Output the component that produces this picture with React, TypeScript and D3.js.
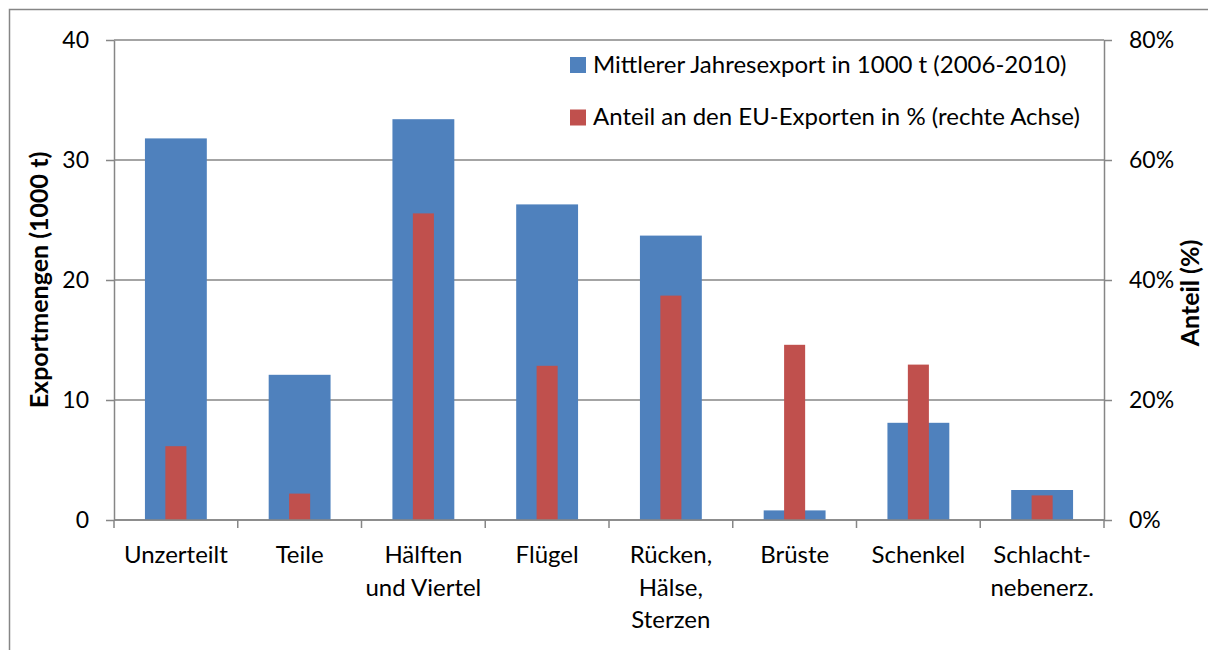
import { axisLeft, axisRight, scaleBand, scaleLinear, select } from "d3";
import { useEffect, useRef } from "react";

const categories = [
  "Unzerteilt",
  "Teile",
  "Hälften\nund Viertel",
  "Flügel",
  "Rücken,\nHälse,\nSterzen",
  "Brüste",
  "Schenkel",
  "Schlacht-\nnebenerz.",
];
const exportValues = [31.8, 12.1, 33.4, 26.3, 23.7, 0.8, 8.1, 2.5];
const euShare = [12.3, 4.4, 51.1, 25.7, 37.4, 29.2, 25.9, 4.1];
const leftTicks = [0, 10, 20, 30, 40];
const rightTicks = [0, 20, 40, 60, 80];
const seriesNames = [
  "Mittlerer Jahresexport in 1000 t (2006-2010)",
  "Anteil an den EU-Exporten in % (rechte Achse)",
];

const width = 1208;
const height = 650;
const FONT = "Lato, 'Open Sans', sans-serif";

export default function App() {
  const ref = useRef<SVGSVGElement>(null);

  useEffect(() => {
    document.body.style.margin = "0";
    document.body.style.overflow = "hidden";

    const marginTop = 40;
    const marginBottom = 130;
    const marginLeft = 114;
    const marginRight = 104;
    const gray = "#868686";

    const svg = select(ref.current);
    svg.selectAll("*").remove();

    // chart frame: only the top and left edges fall inside the picture
    svg.append("path")
      .attr("d", `M9.5,${height} V9.5 H${width}`)
      .attr("fill", "none").attr("stroke", gray).attr("stroke-width", 1.5);

    const x = scaleBand<string>()
      .domain(categories)
      .range([marginLeft, width - marginRight])
      .padding(0);
    const y = scaleLinear().domain([0, 40]).range([height - marginBottom, marginTop]);
    const y2 = scaleLinear().domain([0, 80]).range([height - marginBottom, marginTop]);

    // gridlines
    svg.append("g")
      .selectAll("line")
      .data(leftTicks)
      .join("line")
        .attr("x1", marginLeft).attr("x2", width - marginRight)
        .attr("y1", d => y(d)).attr("y2", d => y(d))
        .attr("stroke", gray).attr("stroke-width", 1.5);

    const bw = x.bandwidth();
    // blue bars (left axis)
    svg.append("g")
      .selectAll("rect")
      .data(exportValues)
      .join("rect")
        .attr("x", (d, i) => x(categories[i])! + bw * 0.25)
        .attr("y", d => y(d))
        .attr("width", bw * 0.5)
        .attr("height", d => y(0) - y(d))
        .attr("fill", "#4F81BD");

    // red bars (right axis)
    svg.append("g")
      .selectAll("rect")
      .data(euShare)
      .join("rect")
        .attr("x", (d, i) => x(categories[i])! + bw * 0.415)
        .attr("y", d => y2(d))
        .attr("width", bw * 0.17)
        .attr("height", d => y2(0) - y2(d))
        .attr("fill", "#C0504D");

    const styleAxis = (g: any) => {
      g.selectAll(".domain").attr("stroke", gray).attr("stroke-width", 1.5);
      g.selectAll(".tick line").attr("stroke", gray).attr("stroke-width", 1.5);
      g.selectAll("text").attr("font-family", FONT).attr("font-size", 23).attr("fill", "#000");
    };

    svg.append("g")
      .attr("transform", `translate(${marginLeft},0)`)
      .call(axisLeft(y).tickValues(leftTicks).tickSize(8).tickSizeOuter(0).tickPadding(17))
      .call(styleAxis);

    svg.append("g")
      .attr("transform", `translate(${width - marginRight},0)`)
      .call(axisRight(y2).tickValues(rightTicks).tickSize(8).tickSizeOuter(0).tickPadding(17)
        .tickFormat(d => `${d}%`))
      .call(styleAxis);

    // bottom axis, ticks at category boundaries
    const boundaries = categories.map(c => x(c)!).concat([width - marginRight]);
    const xb = svg.append("g").attr("transform", `translate(0,${height - marginBottom})`);
    xb.append("line")
      .attr("x1", marginLeft).attr("x2", width - marginRight)
      .attr("stroke", gray).attr("stroke-width", 1.5);
    xb.selectAll("line.tk")
      .data(boundaries)
      .join("line")
        .attr("class", "tk")
        .attr("x1", d => d).attr("x2", d => d)
        .attr("y1", 0).attr("y2", 8)
        .attr("stroke", gray).attr("stroke-width", 1.5);
    xb.selectAll("text")
      .data(categories)
      .join("text")
        .attr("font-family", FONT).attr("font-size", 24)
        .attr("text-anchor", "middle")
        .attr("transform", d => `translate(${x(d)! + bw / 2},0)`)
        .each(function (d) {
          const t = select(this);
          d.split("\n").forEach((line, i) => {
            t.append("tspan").attr("x", 0).attr("y", 43 + i * 32.5).text(line);
          });
        });

    // axis titles
    svg.append("text")
      .attr("transform", `translate(48,280) rotate(-90)`)
      .attr("text-anchor", "middle")
      .attr("font-family", FONT).attr("font-size", 25).attr("font-weight", "bold")
      .text("Exportmengen (1000 t)");
    svg.append("text")
      .attr("transform", `translate(1199,293) rotate(-90)`)
      .attr("text-anchor", "middle")
      .attr("font-family", FONT).attr("font-size", 25).attr("font-weight", "bold")
      .text("Anteil (%)");

    // legend
    const colors = ["#4F81BD", "#C0504D"];
    const legend = svg.append("g")
      .selectAll("g")
      .data(seriesNames)
      .join("g")
        .attr("transform", (d, i) => `translate(570,${57 + i * 52.5})`);
    legend.append("rect")
      .attr("width", 16).attr("height", 16)
      .attr("fill", (d, i) => colors[i]);
    legend.append("text")
      .attr("x", 23).attr("y", 15.5)
      .attr("font-family", FONT).attr("font-size", 24)
      .text(d => d);
  }, []);

  return (
    <div style={{ width, height }}>
      <svg ref={ref} width={width} height={height} style={{ display: "block", background: "white" }} />
    </div>
  );
}
